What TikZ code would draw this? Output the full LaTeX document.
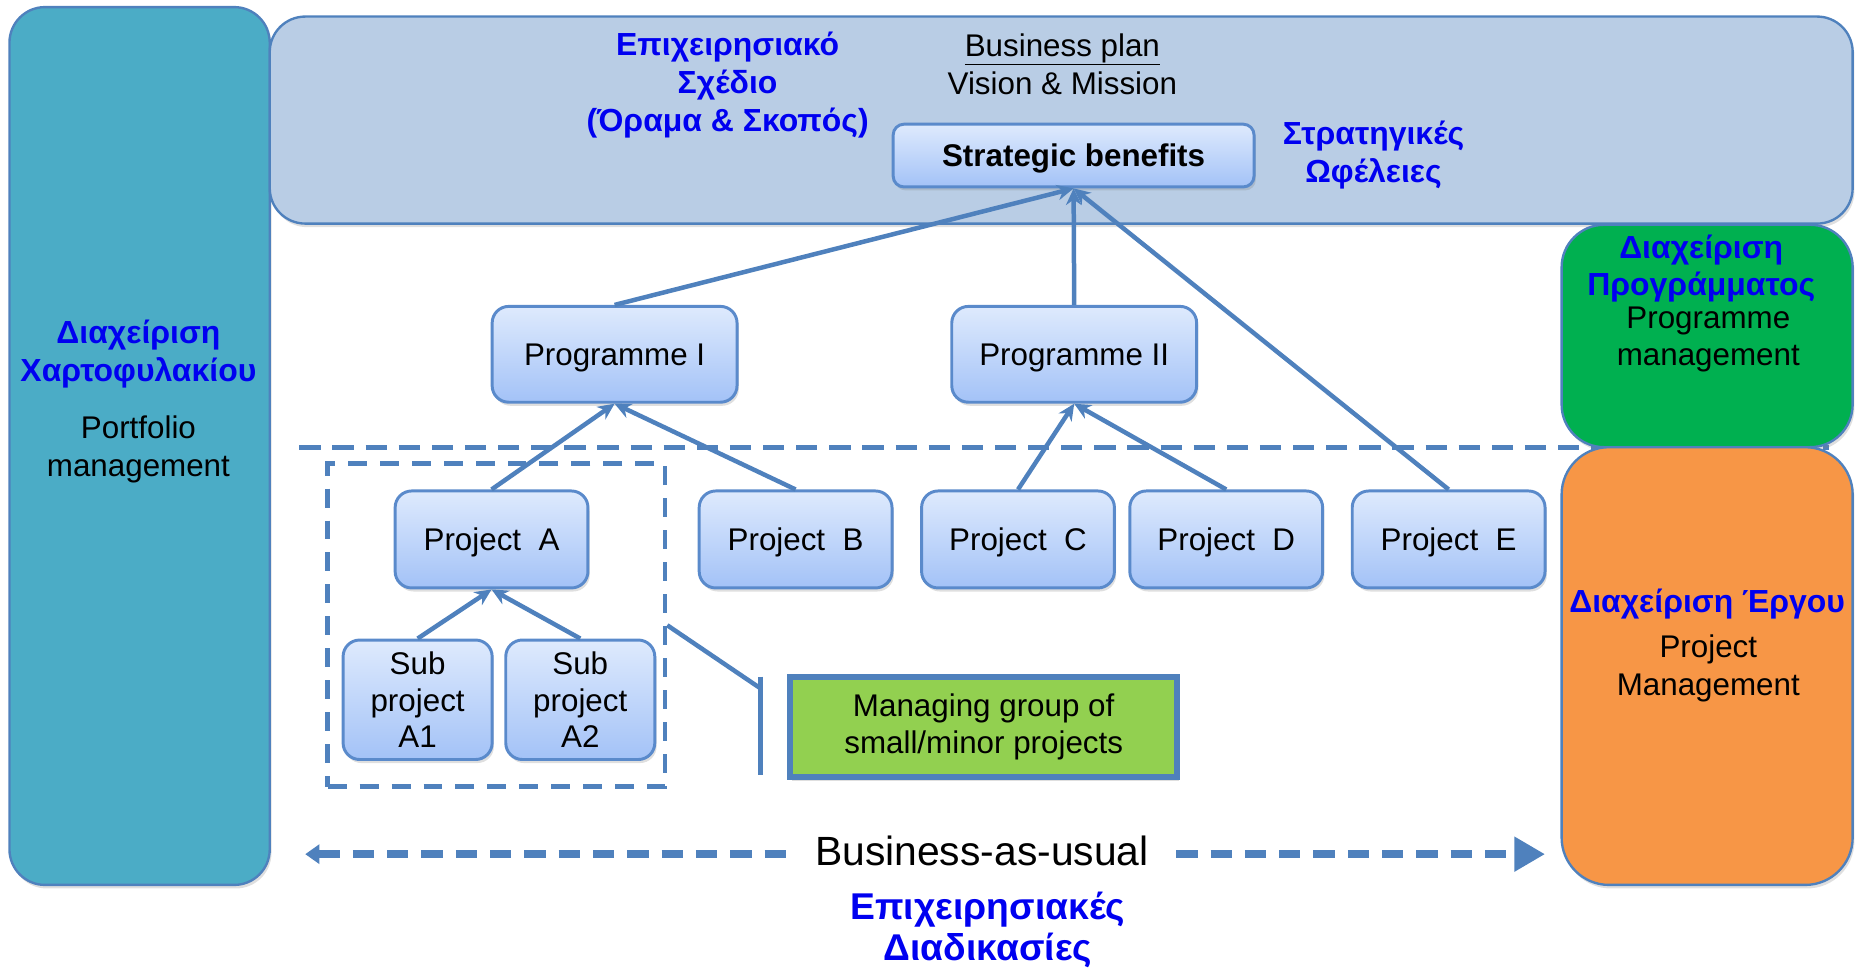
\documentclass[tikz,border=0pt]{standalone}
\usepackage{fontspec}
\setmainfont{Liberation Sans}
\usetikzlibrary{arrows.meta,shadows}
\definecolor{lineblue}{HTML}{4F81BD}
\definecolor{nodeborder}{HTML}{5A8ACB}
\definecolor{nodetop}{HTML}{DEEAFD}
\definecolor{nodebot}{HTML}{A3C2F7}
\definecolor{tealbox}{HTML}{4BACC6}
\definecolor{topbox}{HTML}{B9CDE5}
\definecolor{greenbox}{HTML}{00B050}
\definecolor{orangebox}{HTML}{F79646}
\definecolor{lightgreen}{HTML}{92D050}
\definecolor{gkblue}{HTML}{0000F0}
\tikzset{
  shad/.style={drop shadow={opacity=0.25, shadow xshift=1.5pt, shadow yshift=-3pt}},
  panel/.style={draw=lineblue, line width=2pt, inner sep=0pt, shad},
  box/.style={draw=nodeborder, line width=2.5pt, top color=nodetop, bottom color=nodebot,
    rounded corners=14pt, align=center, font=\fontsize{26.5}{31}\selectfont, inner sep=0pt, shad},
  oneline/.style={text height=19pt, text depth=0pt},
  conn/.style={draw=lineblue, line width=3.8pt, -{Stealth[length=14pt,width=13pt]}},
  plain/.style={draw=lineblue, line width=3.8pt},
  etxt/.style={align=center, font=\fontsize{26.5}{32}\selectfont, inner sep=0pt},
  gtxt/.style={align=center, font=\fontsize{27}{32}\selectfont\bfseries, text=gkblue, inner sep=0pt},
  dash line/.style={draw=lineblue, line width=4pt, dash pattern=on 18pt off 10pt},
}
\begin{document}
\begin{tikzpicture}[x=1pt,y=-1pt]
\useasboundingbox (0,0) rectangle (1568,821);

% panels
\node[panel, fill=tealbox, rounded corners=30pt, minimum width=220pt, minimum height=742pt] (port) at (118,377) {};
\node[panel, fill=topbox, rounded corners=30pt, minimum width=1338pt, minimum height=175pt] (plan) at (897,101.5) {};

% dashed separator
\coordinate (hl1) at (253,378);
\coordinate (hl2) at (1546,378);
\draw[dash line] (hl1) -- (hl2);

\node[panel, fill=greenbox, rounded corners=36pt, minimum width=246pt, minimum height=188pt] (prog) at (1443,284) {};
\node[panel, fill=orangebox, rounded corners=40pt, minimum width=246pt, minimum height=370pt] (proj) at (1443,563) {};

% left panel text
\node[gtxt] (portgk) at (117,299) {Διαχείριση\\Χαρτοφυλακίου};
\node[etxt] (porten) at (117,380) {Portfolio\\management};

% top panel text
\node[gtxt] (plangk) at (615,72) {Επιχειρησιακό\\Σχέδιο\\(Όραμα \& Σκοπός)};
\node[etxt] (planen) at (898,54) {\underline{Business plan}\\Vision \& Mission};
\node[gtxt] (sbgk) at (1161,131) {Στρατηγικές\\Ωφέλειες};

% green panel text
\node[gtxt] (proggk) at (1438,227) {Διαχείριση\\Προγράμματος};
\node[etxt] (progen) at (1444,287) {Programme\\management};

% orange panel text
\node[gtxt] (projgk) at (1443,511) {Διαχείριση Έργου};
\node[etxt] (projen) at (1444,565) {Project\\Management};

% strategic benefits
\node[box, oneline, rounded corners=9pt, minimum width=305pt, minimum height=53pt, font=\fontsize{26.5}{31}\selectfont\bfseries] (sb) at (907.5,131.5) {Strategic benefits};

% programmes
\node[box, oneline, minimum width=207pt, minimum height=81pt] (p1) at (519.5,299.5) {Programme I};
\node[box, oneline, minimum width=207pt, minimum height=81pt] (p2) at (908,299.5) {Programme II};

% group box
\node[draw=lineblue, line width=4pt, dash pattern=on 16pt off 11pt, minimum width=285pt, minimum height=273pt, inner sep=0pt] (grp) at (419.5,528.5) {};

% projects
\node[box, oneline, minimum width=163pt, minimum height=82pt] (pa) at (415.5,456) {Project~~A};
\node[box, oneline, minimum width=163pt, minimum height=82pt] (pb) at (672.5,456) {Project~~B};
\node[box, oneline, minimum width=163pt, minimum height=82pt] (pc) at (860.5,456) {Project~~C};
\node[box, oneline, minimum width=163pt, minimum height=82pt] (pd) at (1036.5,456) {Project~~D};
\node[box, oneline, minimum width=163pt, minimum height=82pt] (pe) at (1224.5,456) {Project~~E};

% sub projects
\node[box, minimum width=126pt, minimum height=101pt] (sa1) at (353,591.5) {Sub\\project\\A1};
\node[box, minimum width=126pt, minimum height=101pt] (sa2) at (490.5,591.5) {Sub\\project\\A2};

% managing group
\node[draw=lineblue, line width=5pt, fill=lightgreen, minimum width=327pt, minimum height=85pt, align=center, font=\fontsize{26.5}{31}\selectfont, inner sep=0pt, shad] (mg) at (831.5,614.5) {Managing group of\\small/minor projects};

% callout bracket
\coordinate (bk) at (643,582);
\coordinate (bt) at (643,572);
\coordinate (bb) at (643,655);
\draw[plain] (grp.east) -- (bk);
\draw[plain] (bt) -- (bb);

% connectors
\draw[conn] (p1.north) -- (sb.south);
\draw[conn] (p2.north) -- (sb.south);
\draw[conn] (pe.north) -- (sb.south);
\draw[conn] (pa.north) -- (p1.south);
\draw[conn] (pb.north) -- (p1.south);
\draw[conn] (pc.north) -- (p2.south);
\draw[conn] (pd.north) -- (p2.south);
\draw[conn] (sa1.north) -- (pa.south);
\draw[conn] (sa2.north) -- (pa.south);

% business as usual
\coordinate (bl) at (258,722);
\coordinate (br) at (1306,722);
\draw[draw=lineblue, line width=7pt, dash pattern=on 18pt off 11pt,
  {Triangle[length=12pt,width=16pt]}-{Triangle[length=26pt,width=28pt]}] (bl) -- (br);
\node[fill=white, inner xsep=18pt, inner ysep=4pt, font=\fontsize{34.5}{38}\selectfont] (bau) at (830,719) {Business-as-usual};
\node[gtxt, font=\fontsize{31.5}{35}\selectfont\bfseries] (bpgk) at (835,786) {Επιχειρησιακές\\Διαδικασίες};
\end{tikzpicture}
\end{document}
